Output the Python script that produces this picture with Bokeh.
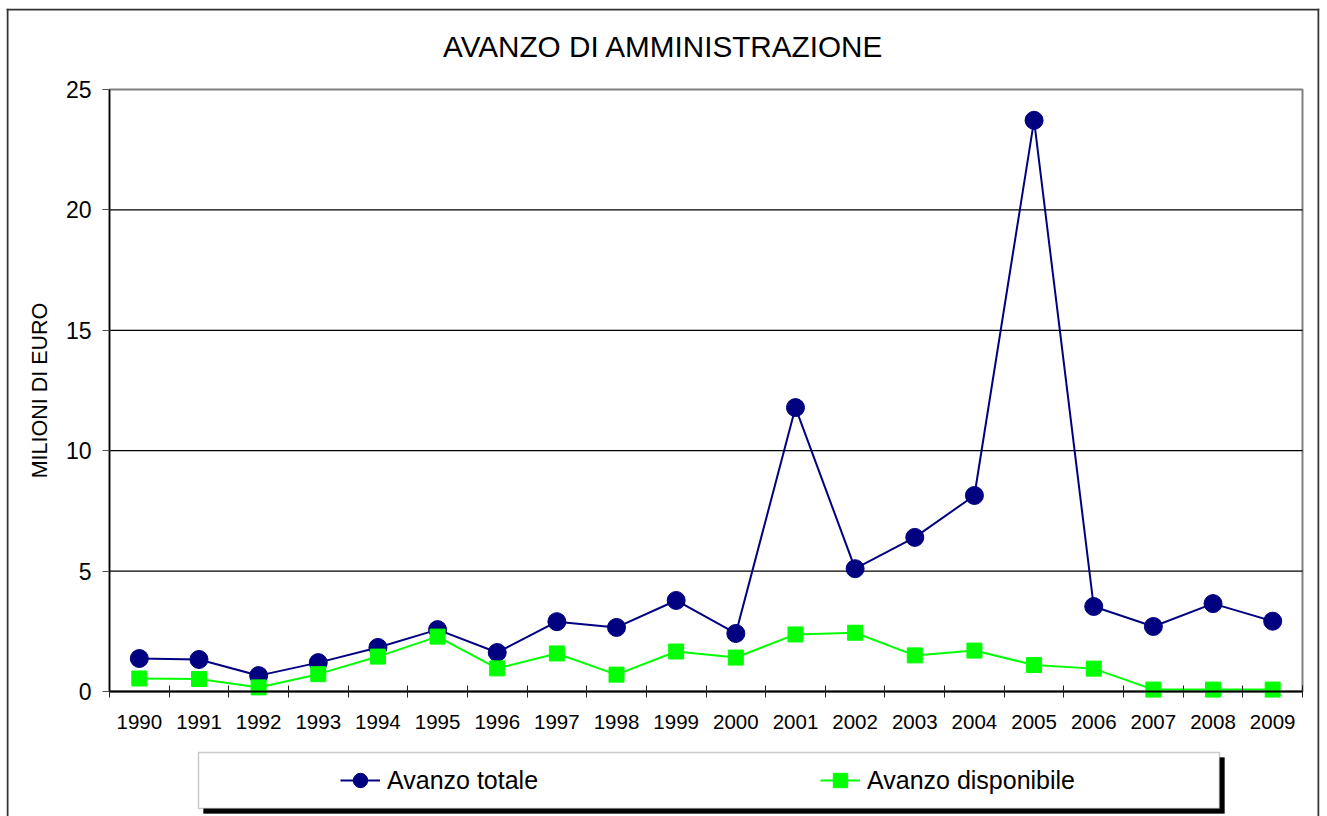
from bokeh.plotting import figure
from bokeh.models import (FixedTicker, Range1d, Legend, LegendItem, BoxAnnotation,
                          NumeralTickFormatter, Span, Label)
from bokeh.embed import file_html
from bokeh.resources import INLINE

years = list(range(1990, 2010))
avanzo_totale = [1.37, 1.33, 0.66, 1.20, 1.83, 2.57, 1.62, 2.90, 2.66, 3.78,
                 2.41, 11.79, 5.10, 6.40, 8.14, 23.72, 3.53, 2.70, 3.65, 2.92]
avanzo_disponibile = [0.54, 0.52, 0.17, 0.72, 1.45, 2.28, 0.96, 1.58, 0.70, 1.66,
                      1.41, 2.37, 2.44, 1.50, 1.70, 1.10, 0.95, 0.08, 0.08, 0.08]
y_ticks = [0, 5, 10, 15, 20, 25]
title_text = "AVANZO DI AMMINISTRAZIONE"
y_label = "MILIONI DI EURO"
series_names = ["Avanzo totale", "Avanzo disponibile"]

FONT = "Liberation Sans"
NAVY = "#000080"
LIME = "#00FF00"

# layout (pixels on the canvas)
W, H = 1327, 816
FL, FR, FT, FB = 6, 1319, 8, 816          # outer chart frame
PL, PR, PT, PB = 109, 1302, 89, 691       # plot area
X0, X1 = years[0] - 0.5, years[-1] + 0.5
Y0, Y1 = y_ticks[0], y_ticks[-1]


def xd(px):
    return X0 + (px - PL) * (X1 - X0) / (PR - PL)


def yd(py):
    return Y0 + (PB - py) * (Y1 - Y0) / (PB - PT)


p = figure(frame_width=FR - FL, frame_height=FB - FT,
           min_border_left=FL, min_border_right=W - FR,
           min_border_top=FT, min_border_bottom=0,
           x_range=Range1d(xd(FL), xd(FR)), y_range=Range1d(yd(FB), yd(FT)),
           output_backend="svg", toolbar_location=None)

p.background_fill_color = "white"
p.border_fill_color = "white"
p.outline_line_color = None
p.xgrid.visible = False
p.ygrid.visible = False

# y axis
p.yaxis.fixed_location = X0
p.yaxis.bounds = (Y0, Y1)
p.yaxis.ticker = FixedTicker(ticks=y_ticks)
p.yaxis.axis_label = y_label
p.yaxis.axis_label_text_font = FONT
p.yaxis.axis_label_text_font_size = "21.5px"
p.yaxis.axis_label_text_font_style = "normal"
p.yaxis.axis_label_text_color = "black"
p.yaxis.axis_label_standoff = 11
p.yaxis.major_label_text_font = FONT
p.yaxis.major_label_text_font_size = "23px"
p.yaxis.major_label_text_color = "black"
p.yaxis.major_label_standoff = 11
p.yaxis.major_tick_out = 7
p.yaxis.major_tick_in = 0
p.yaxis.minor_tick_out = 0
p.yaxis.minor_tick_in = 0
p.yaxis.major_tick_line_color = "#505050"
p.yaxis.axis_line_color = "black"
p.yaxis.axis_line_width = 1.5

# x axis
p.xaxis.fixed_location = Y0
p.xaxis.bounds = (X0, X1)
p.xaxis.ticker = FixedTicker(ticks=years,
                             minor_ticks=[y - 0.5 for y in years] + [years[-1] + 0.5])
p.xaxis.formatter = NumeralTickFormatter(format="0")
p.xaxis.major_label_text_font = FONT
p.xaxis.major_label_text_font_size = "20.5px"
p.xaxis.major_label_text_color = "black"
p.xaxis.major_label_standoff = 17
p.xaxis.major_tick_out = 0
p.xaxis.major_tick_in = 0
p.xaxis.minor_tick_out = 6
p.xaxis.minor_tick_in = 6
p.xaxis.minor_tick_line_color = "#202020"
p.xaxis.axis_line_color = "black"
p.xaxis.axis_line_width = 2

# plot-area border and horizontal gridlines
p.quad(left=X0, right=X1, bottom=Y0, top=Y1, fill_color=None,
       line_color="#808080", line_width=2)
grid_y = y_ticks[1:-1]
p.segment(x0=X0, x1=X1, y0=grid_y, y1=grid_y, line_color="black", line_width=1.2)

r1 = p.line(years, avanzo_totale, line_color=NAVY, line_width=2)
s1 = p.scatter(years, avanzo_totale, marker="circle", size=18,
               fill_color=NAVY, line_color=NAVY)
r2 = p.line(years, avanzo_disponibile, line_color=LIME, line_width=2)
s2 = p.scatter(years, avanzo_disponibile, marker="square", size=15,
               fill_color=LIME, line_color=LIME)

# title
p.add_layout(Label(x=xd(663), y=yd(46), text=title_text, text_align="center",
                   text_baseline="alphabetic", text_font=FONT,
                   text_font_size="29.7px", text_color="black"))

# outer chart frame (left, top, right)
for loc, dim in [(xd(FL + 1), "height"), (xd(FR - 1), "height"), (yd(FT + 1), "width")]:
    p.add_layout(Span(location=loc, dimension=dim, line_color="#333333", line_width=2))

# legend box with shadow
LBL, LBR, LBT, LBB = 198, 1219, 752, 808
shadow = BoxAnnotation(left=LBL + 5, right=LBR + 5, top=LBT + 5, bottom=LBB + 5,
                       left_units="canvas", right_units="canvas",
                       top_units="canvas", bottom_units="canvas",
                       fill_color="black", fill_alpha=1, line_color="black", line_width=1)
box = BoxAnnotation(left=LBL, right=LBR, top=LBT, bottom=LBB,
                    left_units="canvas", right_units="canvas",
                    top_units="canvas", bottom_units="canvas",
                    fill_color="white", fill_alpha=1, line_color="#505050", line_width=1.5)
p.add_layout(shadow)
p.add_layout(box)

legend = Legend(items=[LegendItem(label=series_names[0], renderers=[r1, s1]),
                       LegendItem(label=series_names[1], renderers=[r2, s2])],
                orientation="horizontal", location=(330 - FL, FB - LBT - 56),
                glyph_width=40, glyph_height=36, label_standoff=7,
                label_width=200, spacing=233, padding=10, margin=0,
                background_fill_alpha=0, border_line_alpha=0,
                label_text_font=FONT, label_text_font_size="25px",
                label_text_color="black")
p.add_layout(legend, "center")

open("out.html", "w").write(file_html(p, INLINE))
